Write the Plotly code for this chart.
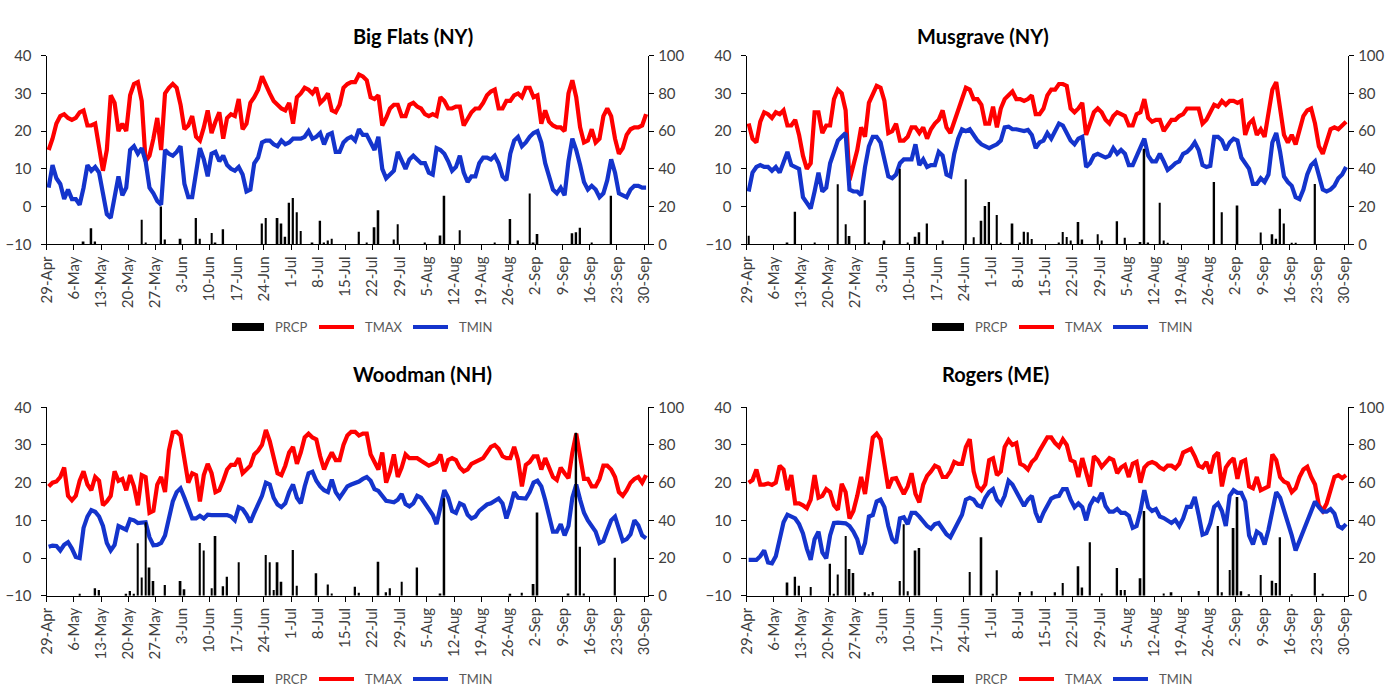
import pandas as pd
import plotly.graph_objects as go
from plotly.subplots import make_subplots

W, H = 1385, 687
FONT = "Lato"

# Daily series, 29-Apr .. 30-Sep (155 days), temperatures in deg C
start = pd.Timestamp("2018-04-29")
days = pd.date_range(start + pd.Timedelta(hours=12), periods=155, freq="D")

bigflats_tmax = [
    15, 18, 22, 24, 24.5, 23.5, 23, 23.5, 25, 25.5,
    21.5, 21.5, 22, 15, 9.5, 15, 29.5, 27.5, 20, 22,
    20, 29.5, 32.5, 33, 28, 12, 13.5, 18, 23.5, 15,
    30, 31.5, 32.5, 31.5, 27, 20.5, 21.5, 24, 18.5, 17.5,
    21, 25.5, 19.5, 22.5, 25, 18, 23.5, 24.5, 24, 28.5,
    20.5, 22, 27.5, 29, 31, 34.5, 32, 30, 28, 27,
    26, 25.5, 27.5, 22, 29, 30, 31.5, 31, 30, 31.5,
    27.5, 28.5, 30, 25.5, 25, 27, 31.5, 32.5, 33, 33,
    35, 34.5, 33.5, 29, 28.5, 29.5, 21.5, 23.5, 26, 27,
    27, 24, 24, 27, 27.5, 26.5, 26, 24.5, 24, 24.5,
    24, 29, 28, 26, 26, 26.5, 26.5, 21.5, 23.5, 25,
    26, 26, 27.5, 29.5, 30.5, 31, 26, 26, 28, 28,
    29.5, 30, 29, 31.5, 31.5, 29, 29.5, 22, 25.5, 22.5,
    21.5, 21, 21, 20, 30, 33.5, 29, 21, 17, 17.5,
    20.5, 17, 18, 24, 26, 24, 18, 14, 15.5, 19,
    20.5, 21, 21, 21.5, 24.5,
]
bigflats_tmin = [
    5, 11, 7.5, 6, 2, 4.5, 2, 2, 0.5, 5,
    11, 9.5, 10.5, 9, 3.5, -2, -3, 3, 8, 3,
    5, 15, 16, 14, 15.5, 12, 5, 3.5, 1.5, 0.5,
    15, 14, 13.5, 14.5, 16, 6, 2.5, 2.5, 9, 15.5,
    12.5, 8, 14, 14.5, 12, 13.5, 11, 10, 9.5, 10.5,
    8.5, 4, 4.5, 11.5, 13, 17, 17.5, 17.5, 16.5, 16,
    17.5, 16.5, 17, 18, 18, 18, 18.5, 20, 18, 18.5,
    19.5, 16.5, 19, 19.5, 14.5, 14.5, 17, 18, 18.5, 17.5,
    20.5, 19, 19, 17, 15, 18.5, 10, 7.5, 8.5, 9.5,
    14.5, 12, 10, 12.5, 13.5, 12.5, 11.5, 11.5, 9, 8.5,
    15.5, 15, 14, 12, 9.5, 10.5, 13.5, 9, 6.5, 8,
    8, 11.5, 13, 13, 12.5, 13.5, 11.5, 8, 7, 14,
    17.5, 18.5, 16, 17, 18.5, 19.5, 20, 17, 11.5, 8,
    4.5, 3.5, 5, 3, 12, 18, 15, 11, 6.5, 4.5,
    5.5, 4.5, 2.5, 3.5, 7, 12.5, 9, 3.5, 3, 2.5,
    4.5, 5.5, 5.5, 5, 5,
]
# Precipitation (mm): day offset from 29-Apr and amount
bigflats_rain_day = [9, 11, 12, 24, 25, 29, 30, 34, 38, 39, 42, 43, 45, 55, 56, 59, 60, 61,
                     62, 63, 64, 65, 68, 70, 71, 72, 73, 80, 82, 84, 85, 89, 90, 97, 101,
                     102, 106, 115, 119, 121, 124, 125, 126, 135, 136, 137, 140, 145]
bigflats_rain_mm = [1.5, 8.5, 1.5, 13, 1, 20, 2.5, 3, 14, 3, 6, 1, 8, 11, 14, 14, 11, 4,
                    22, 24.5, 17, 7, 1, 12.5, 1, 2, 3, 6.7, 1, 9, 18, 2.6, 10.6, 1, 4.6,
                    25.8, 7.4, 1, 13.4, 2, 27, 1, 5.5, 5.8, 6.4, 8.8, 1, 25.8]

musgrave_tmax = [
    22, 18, 17, 22.5, 25, 24.5, 23.5, 25, 24.5, 25.5,
    21.5, 21.5, 23, 19, 13.5, 10, 11.5, 25, 25, 19.5,
    21.5, 21.5, 28.5, 31, 30, 25.5, 7, 11.5, 15, 21,
    18.5, 27.5, 29.5, 32, 31.5, 28, 19.5, 20, 22, 17.5,
    17.5, 18.5, 21, 21, 19.5, 21, 18, 20.5, 22, 23,
    25.5, 21, 19.5, 22.5, 26, 29, 31.5, 31, 28.5, 28.5,
    27, 22, 22, 26.5, 21, 26, 28.5, 29.5, 30.5, 28.5,
    28.5, 28, 28.5, 29.5, 24.5, 24.5, 26, 29.5, 31, 31,
    32.5, 32.5, 32, 26, 25, 26, 27.5, 19, 22, 25,
    26, 25, 23, 22, 24, 25, 24.5, 24, 21.5, 21.5,
    24.5, 25, 28.5, 23.5, 22.5, 23, 23, 20, 21.5, 23,
    23, 24, 24.5, 26, 26, 26, 26, 22, 23, 25,
    27, 26.5, 28, 27, 28, 28, 27.5, 28, 19, 22,
    23, 19, 20.5, 18.5, 24, 31, 33, 26.5, 19, 17,
    19, 16.5, 20, 24, 25.5, 26, 22, 16, 14, 17.5,
    20.5, 21, 20.5, 21.5, 22.5,
]
musgrave_tmin = [
    4, 9, 10.5, 11, 10.5, 10.5, 9.5, 10.5, 9, 11.5,
    14.5, 11, 10.5, 10, 2.5, 1, -0.5, 4, 9, 4,
    5, 11.5, 14.5, 17.5, 18.5, 19.5, 4.5, 4, 4, 3,
    10.5, 16, 18.5, 18.5, 17, 12, 8, 7.5, 8.5, 11.5,
    12.5, 12.5, 12.5, 16.5, 11, 12.5, 10.5, 11, 11, 14.5,
    13.5, 8.5, 8, 14, 18, 20.5, 20, 20.5, 19, 17.5,
    16.5, 16, 15.5, 16, 16.5, 17.5, 21, 21.2, 20.5, 20.5,
    20.3, 20, 20.3, 19, 15.5, 17, 17.5, 19.5, 18, 20,
    22, 21.5, 19.5, 17.5, 16.5, 18, 18.5, 10.5, 11.5, 13.5,
    14, 13.5, 13, 13.5, 15.5, 14, 15, 14, 11, 11,
    13.5, 16, 18, 13.5, 12, 12, 14, 12, 9.7, 10.5,
    11.5, 12, 14, 14.5, 15.5, 17, 15, 11, 10.5, 10.8,
    18.5, 18.5, 17.5, 15, 17, 18, 17.5, 13, 11.5, 10,
    6, 6, 7.5, 6.5, 8.5, 17, 19.5, 14.5, 8, 6.5,
    5.5, 2.5, 2, 4.5, 8.5, 11, 12, 8.5, 4.5, 4,
    4.5, 5.5, 7.5, 8.5, 10.5,
]
musgrave_rain_day = [0, 10, 12, 17, 23, 25, 26, 30, 31, 35, 39, 41, 43, 44, 46, 50, 56, 58,
                     60, 61, 62, 64, 65, 68, 70, 71, 72, 73, 80, 81, 82, 83, 85, 86, 90,
                     91, 95, 97, 101, 102, 103, 106, 107, 108, 120, 122, 126, 132, 135,
                     136, 137, 138, 140, 141, 146]
musgrave_rain_mm = [4.5, 1, 17.3, 1, 31.8, 10.6, 4.4, 23.3, 1, 2, 40, 1, 4, 6.4, 11, 2, 34.5,
                    3.7, 12.5, 20.3, 22.4, 15.5, 0.7, 11, 1, 6.7, 6.4, 2.8, 1, 6.5, 3.9, 2,
                    11.8, 2.5, 5.3, 2, 12.2, 3.5, 1.2, 50.6, 1, 22, 2, 0.7, 33, 17, 20.6,
                    6.2, 5.3, 3, 18.9, 11, 0.7, 0.7, 32]

woodman_tmax = [
    19, 20, 20.3, 21.5, 24, 16.5, 15.3, 16.5, 20.5, 23,
    19.5, 18, 21.5, 20.5, 14, 15, 16.5, 23, 20.5, 21,
    18, 22, 19, 14, 22, 21.5, 12, 12.5, 19.5, 21.5,
    17.5, 28.5, 33.3, 33.5, 32.5, 26.5, 20, 22.5, 22, 15,
    22, 25, 22.5, 17.5, 18, 20.5, 23.5, 24.7, 24.7, 26.5,
    22.5, 23.5, 24.5, 27.5, 28.5, 30, 34, 31, 26.5, 22.5,
    22, 24.5, 28, 29.5, 25, 28, 32, 33, 32, 31.5,
    27, 23.5, 26, 28, 26, 26, 30, 32.5, 33.5, 33.5,
    32.5, 33, 33, 27.5, 25.5, 23.5, 28, 20, 23, 27.5,
    21.5, 24, 27.5, 26.5, 26.5, 26.5, 25.8, 25, 24.5, 25,
    25.5, 27.5, 23, 26, 26.5, 26, 24, 23, 23.5, 25,
    25.5, 26, 26.5, 28, 29.5, 30, 29, 27, 26.5, 26.5,
    29.5, 26, 19, 24.7, 25.5, 27, 27, 23.5, 26.5, 24,
    21.5, 20.7, 24, 22.5, 21.2, 28, 33, 27, 21, 21,
    19, 19, 21, 24.5, 24.5, 23.5, 21.5, 17.5, 16.5, 18,
    20, 21, 21.5, 20, 22,
]
woodman_tmin = [
    3, 3.3, 3.2, 2, 3.5, 4.2, 2.5, 0.3, 0, 8,
    11, 12.7, 12.3, 11, 8.5, 4, 2, 3.5, 8.5, 8,
    7.5, 10.3, 10, 9.3, 9.5, 9.5, 5.5, 3.4, 3.5, 4,
    6, 10.5, 15, 17.5, 18.5, 16, 13, 10.5, 10.5, 11.2,
    10.5, 11.5, 11.4, 11.4, 11.6, 11.4, 11.4, 11, 10, 13.5,
    13, 11.5, 9.5, 12, 14, 16.5, 20, 19.5, 16, 14.2,
    13.5, 14.5, 17.5, 19.5, 16, 14.5, 19, 22.5, 22.9, 20.5,
    19, 18, 17.5, 20.8, 17.5, 16, 17.5, 19, 19.5, 19.8,
    20.3, 21, 21.5, 20.5, 18.3, 17.8, 16.5, 15.2, 15, 14.8,
    15.5, 17, 14.3, 13.7, 14.5, 16.5, 16, 14.5, 12.6, 11.5,
    9, 13.5, 18, 16, 12.5, 12, 14.5, 14, 11.5, 10.5,
    11, 12.5, 13.5, 14.2, 14.5, 15.3, 15.8, 14.5, 10.5, 13.6,
    17.5, 16, 15.8, 15.8, 17.5, 20, 20.5, 19, 15.4, 11,
    7, 7, 9, 6, 8.5, 16, 19.5, 15.5, 12, 10,
    8.3, 7, 4, 4.5, 7.3, 10, 11, 7.5, 4.5, 5,
    6.3, 10, 8.7, 6, 5.2,
]
woodman_rain_day = [8, 12, 13, 20, 21, 22, 23, 24, 25, 26, 27, 30, 34, 35, 39, 40, 42, 43, 45,
                    46, 49, 56, 57, 58, 59, 60, 63, 64, 69, 72, 73, 79, 80, 85, 87, 88, 91,
                    95, 101, 102, 119, 122, 125, 126, 134, 136, 137, 138, 146]
woodman_rain_mm = [1, 4, 3, 1, 2.5, 1, 27.8, 9.6, 39, 15, 7.8, 5.7, 7.8, 3.4, 28, 24, 4, 31.7,
                   5, 10, 17.7, 21.6, 17.7, 3, 17.7, 7.4, 24.2, 5.3, 11.9, 6, 1.2, 4.8, 1.5,
                   18, 1.8, 4, 7.4, 15, 1.2, 51.7, 1, 1.5, 6.2, 44.2, 1.2, 86.5, 26, 1.2, 20.2]

rogers_tmax = [
    20, 20.7, 23.5, 19.5, 19.5, 19.8, 19.4, 20, 24.5, 23.5,
    18, 22, 14.5, 14.5, 14, 13.2, 15.5, 22, 16, 16.5,
    18.3, 17.5, 14, 12.8, 19.7, 17.5, 10.5, 12.5, 16.5, 21.5,
    17, 25.5, 32, 33, 31.5, 25, 18.5, 21, 21.2, 19,
    17, 19, 22.5, 17, 14.8, 19.5, 21.8, 23, 24.5, 24,
    21.5, 21.5, 23, 25.5, 25, 25, 29.5, 31.5, 23, 19,
    18, 19.5, 26, 26.5, 22, 23, 29.5, 31.3, 30, 30.5,
    25, 24.5, 23.5, 25.5, 26.5, 28.5, 30.5, 32, 32, 30.5,
    29.5, 31.5, 30, 26, 25.5, 21.5, 26.5, 23, 19, 27,
    26, 24.2, 25.5, 26.5, 26, 22.5, 24, 24.7, 21.5, 25,
    25.5, 20, 24, 25.1, 25.5, 25, 24, 23.5, 24.5, 24.5,
    23.8, 25, 28, 28.5, 29, 27, 24.5, 24, 25.5, 22.5,
    27, 28, 19, 24, 25.5, 26.5, 21, 25.5, 26, 19,
    18.5, 21.5, 18, 18.5, 19, 27.5, 26, 21.5, 20.3, 19.8,
    17.5, 18.5, 21.5, 23.5, 24.2, 21.5, 19.5, 14, 12.5, 14.5,
    18.5, 21.5, 22, 21.2, 22,
]
rogers_tmin = [
    -0.5, -0.5, -0.5, 0.5, 2, -1.2, -1.4, 0.5, 5.5, 9.5,
    11.5, 11, 10.5, 9, 6.5, 2.5, -0.5, 5, 7, 1.5,
    -0.1, 6, 9.3, 9.4, 9.2, 9.2, 8.5, 7, 5, 1,
    4, 11, 11.4, 15, 15.5, 13.5, 8.5, 5, 4, 10.5,
    10.8, 9, 12, 12, 11, 9.8, 8.5, 7.8, 9, 9.3,
    8, 6.3, 5.5, 7.5, 9.8, 11.5, 15.5, 16, 15.5, 14,
    13.6, 16, 17.5, 18.3, 15.5, 14.3, 16.5, 20.5, 19.5, 17.5,
    15.5, 13.8, 15.5, 16.5, 12, 9.5, 12, 14, 15.8, 16.3,
    16.5, 18.3, 18.3, 15.5, 13.5, 14.5, 13.5, 10, 14, 15.8,
    15.2, 17.3, 13.8, 12.3, 12.3, 13, 12, 12, 11.2, 8,
    8.5, 12.5, 18, 13.5, 12.5, 13, 11, 10.6, 10, 9.3,
    10.1, 8.5, 10.5, 13.6, 13.6, 16.2, 11.5, 6.2, 6.6, 9.2,
    13.6, 14.5, 12.5, 8.5, 16.5, 18, 17.3, 17.3, 15, 6,
    3.6, 7, 6.3, 3.6, 7.5, 13, 17.5, 16, 12.8, 9.5,
    6, 2, 4.5, 7, 9.8, 12, 15, 13.5, 12.3, 12.3,
    13, 11.8, 8.5, 7.9, 9,
]
rogers_rain_day = [10, 12, 13, 16, 21, 22, 23, 25, 26, 27, 30, 31, 32, 39, 40, 41, 43, 44, 57,
                   60, 63, 64, 70, 73, 79, 81, 85, 86, 88, 91, 95, 96, 97, 101, 102, 107,
                   109, 116, 121, 122, 124, 125, 126, 127, 129, 132, 135, 136, 137, 140,
                   146, 148]
rogers_rain_mm = [7, 10, 5.3, 4.6, 17, 1, 11.3, 31.7, 14.2, 12, 1.8, 0.7, 2, 7.8, 37.9, 2.3,
                  24, 25.3, 12.6, 31, 1, 13.5, 2, 2.3, 1.8, 6.7, 15.6, 4.4, 28.4, 1.2, 14.7,
                  3, 3, 9.2, 45, 1.2, 1.8, 2.5, 37, 1.8, 13.7, 36, 52.4, 2.3, 0.5, 11, 8,
                  6.7, 31, 0.4, 12, 1]

stations = [
    ("Big Flats (NY)", bigflats_tmax, bigflats_tmin, bigflats_rain_day, bigflats_rain_mm, 1, 1),
    ("Musgrave (NY)", musgrave_tmax, musgrave_tmin, musgrave_rain_day, musgrave_rain_mm, 1, 2),
    ("Woodman (NH)", woodman_tmax, woodman_tmin, woodman_rain_day, woodman_rain_mm, 2, 1),
    ("Rogers (ME)", rogers_tmax, rogers_tmin, rogers_rain_day, rogers_rain_mm, 2, 2),
]

RED = "#FF0000"
BLUE = "#1434CC"
TICK_COLOR = "#404040"
LEGEND_TEXT = "#595959"

# pixel geometry of the four plot areas (left, right, top, bottom)
COL_X = {1: (46.7, 648.0), 2: (746.7, 1348.0)}
ROW_Y = {1: (55.7, 244.3), 2: (407.3, 595.7)}
LEGEND_Y = {1: 327.0, 2: 679.0}
COL_DX = {1: 0.0, 2: 700.0}


def px(x):
    return x / W


def py(y):
    return 1 - y / H


fig = make_subplots(rows=2, cols=2, specs=[[{"secondary_y": True}] * 2] * 2)

for title, tmax, tmin, rain_day, rain_mm, r, c in stations:
    fig.add_trace(go.Scatter(x=days, y=tmax, mode="lines", name="TMAX",
                             line=dict(color=RED, width=4.2), showlegend=False),
                  row=r, col=c, secondary_y=False)
    fig.add_trace(go.Scatter(x=days, y=tmin, mode="lines", name="TMIN",
                             line=dict(color=BLUE, width=4.2), showlegend=False),
                  row=r, col=c, secondary_y=False)
    rain_x = [days[d] for d in rain_day]
    fig.add_trace(go.Bar(x=rain_x, y=rain_mm, name="PRCP", marker_color="black",
                         marker_line_width=0, width=0.45 * 86400000, showlegend=False),
                  row=r, col=c, secondary_y=True)

    x0, x1 = COL_X[c]
    y0, y1 = ROW_Y[r]
    axis_common = dict(showgrid=False, zeroline=False, showline=True, linecolor="black",
                       linewidth=1.3, ticks="outside", ticklen=5, tickcolor="black",
                       tickwidth=1.3, automargin=False,
                       tickfont=dict(family=FONT, size=15, color=TICK_COLOR))
    fig.update_xaxes(row=r, col=c, domain=[px(x0), px(x1)], type="date",
                     range=[start, start + pd.Timedelta(days=155)],
                     tick0=start, dtick=7 * 86400000, tickformat="%-d-%b",
                     tickangle=-90, **axis_common)
    fig.update_yaxes(row=r, col=c, secondary_y=False, domain=[py(y1), py(y0)],
                     range=[-10, 40], dtick=10, side="left", ticklabelstandoff=6,
                     **axis_common)
    fig.update_yaxes(row=r, col=c, secondary_y=True, range=[0, 100], dtick=20,
                     side="right", ticklabelstandoff=1, **axis_common)

    # station title
    fig.add_annotation(text=f"<b>{title}</b>", x=px((x0 + x1) / 2 + 4), y=py(22 + (y0 - 55.7)),
                       xref="paper", yref="paper", showarrow=False,
                       font=dict(family=FONT, size=20, color="black"))

    # legend row under each chart
    dx = COL_DX[c]
    ly = LEGEND_Y[r]
    fig.add_shape(type="rect", xref="paper", yref="paper",
                  x0=px(232 + dx), x1=px(264 + dx), y0=py(ly + 4), y1=py(ly - 4),
                  fillcolor="black", line_width=0)
    for (lx0, lx1), color in (((319, 354), RED), ((413, 448), BLUE)):
        fig.add_shape(type="line", xref="paper", yref="paper",
                      x0=px(lx0 + dx), x1=px(lx1 + dx), y0=py(ly), y1=py(ly),
                      line=dict(color=color, width=4))
    for tx, label in ((273, "PRCP"), (363, "TMAX"), (457, "TMIN")):
        fig.add_annotation(text=label, x=px(tx + dx), y=py(ly), xref="paper", yref="paper",
                           xanchor="left", yanchor="middle", showarrow=False,
                           font=dict(family=FONT, size=13, color=LEGEND_TEXT))

fig.update_layout(width=W, height=H, margin=dict(l=0, r=0, t=0, b=0),
                  plot_bgcolor="white", paper_bgcolor="white", showlegend=False,
                  barmode="overlay", font=dict(family=FONT))

fig.write_html("out.html")
